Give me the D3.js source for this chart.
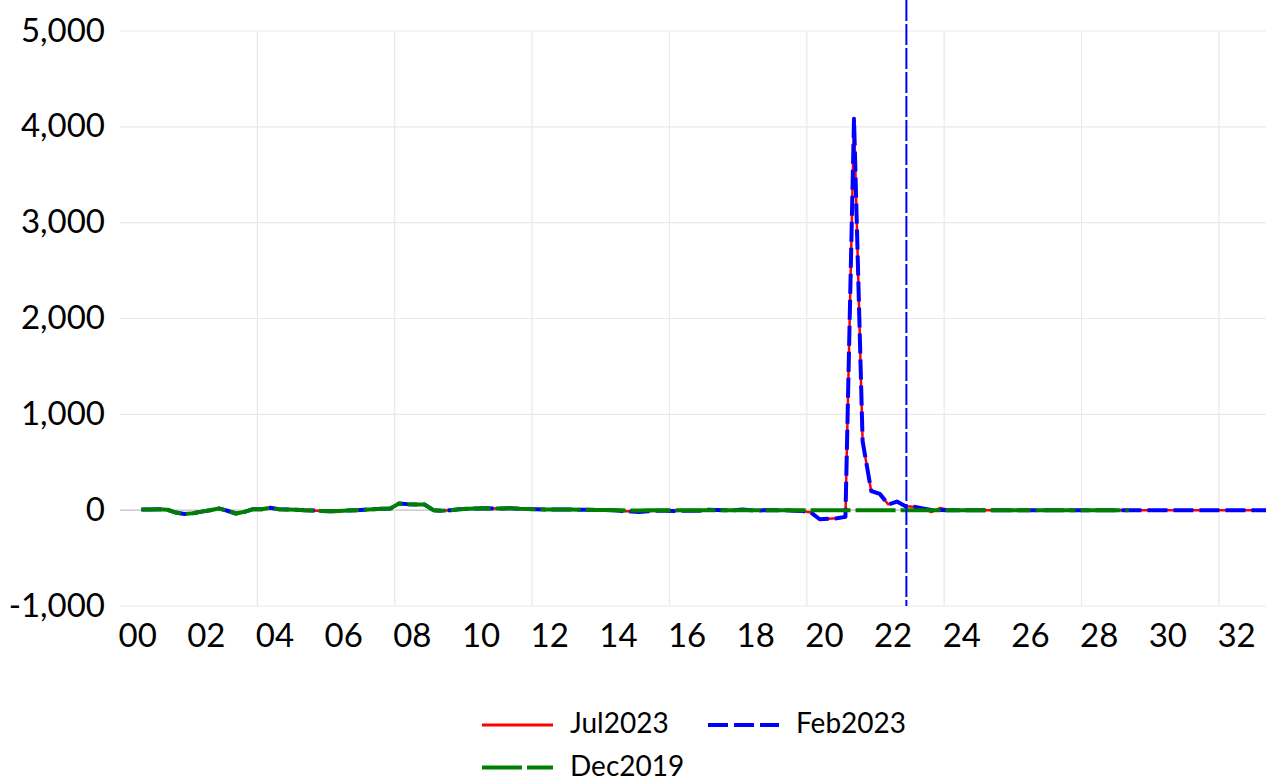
<!DOCTYPE html>
<html>
<head>
<meta charset="utf-8">
<script src="https://cdn.jsdelivr.net/npm/d3@7"></script>
<style>
  body { margin: 0; background: #fff; }
  svg text { font-family: Lato, "Noto Sans", sans-serif; fill: #000; }
</style>
</head>
<body>
<svg id="chart" width="1266" height="781"></svg>
<script>
"use strict";

// samples are quarter-hour slots, the first one sits in slot 2
const SLOTS_PER_HOUR = 4;
const FIRST_SLOT = 2;

const xTickHours = [0, 2, 4, 6, 8, 10, 12, 14, 16, 18, 20, 22, 24, 26, 28, 30, 32];
const xGridHours = [4, 8, 12, 16, 20, 24, 28, 32];
const yTicks = [-1000, 0, 1000, 2000, 3000, 4000, 5000];
const markerHour = 22.9;

const feb2023 = [
  7, 8, 10, 5, -25, -40, -32, -15, 0, 18,
  -6, -35, -18, 10, 10, 25, 10, 8, 5, 0,
  -3, -8, -12, -8, -4, 0, 5, 10, 15, 18,
  70, 63, 60, 58, 0, -6, 0, 10, 14, 18,
  20, 18, 18, 20, 15, 12, 10, 8, 8, 7,
  8, 5, 5, 3, 3, 0, -8, -15, -18, -12,
  -6, -5, -8, -6, -5, -6, 5, 2, 0, -2,
  8, 0, -3, 2, 0, -2, -5, -8, -25, -95,
  -90, -85, -70, 4085, 720, 200, 170, 60, 90, 40,
  35, 18, 2, 2, 0, 0, 0, 0, 0, 0,
  0, 0, 0, 0, 0, 0, 0, 0, 0, 0,
  0, 0, 0, 0, 0, 0, 0, 0, 0, 0,
  0, 0, 0, 0, 0, 0, 0, 0, 0, 0,
  0, 0
];

const jul2023 = [
  7, 8, 10, 5, -25, -40, -32, -15, 0, 18,
  -6, -35, -18, 10, 10, 25, 10, 8, 5, 0,
  -3, -8, -12, -8, -4, 0, 5, 10, 15, 18,
  70, 63, 60, 58, 0, -6, 0, 10, 14, 18,
  20, 18, 18, 20, 15, 12, 10, 8, 8, 7,
  8, 5, 5, 3, 3, 0, -8, -15, -18, -12,
  -6, -5, -8, -6, -5, -6, 5, 2, 0, -2,
  8, 0, -3, 2, 0, -2, -5, -8, -25, -95,
  -90, -85, -70, 4085, 720, 200, 170, 60, 90, 40,
  35, 18, -20, 22, 5, 0, 0, 0, 0, 0,
  0, 0, 0, 0, 0, 0, 0, 0, 0, 0,
  0, 0, 0, 0, 0, 0, 0, 0, 0, 0,
  0, 0, 0, 0, 0, 0, 0, 0, 0, 0,
  0, 0
];

const dec2019 = [
  7, 8, 10, 5, -25, -40, -32, -15, 0, 18,
  -6, -35, -18, 10, 10, 25, 10, 8, 5, 0,
  -3, -8, -12, -8, -4, 0, 5, 10, 15, 18,
  70, 63, 60, 58, 0, -6, 0, 10, 14, 18,
  20, 18, 18, 20, 15, 12, 10, 8, 8, 7,
  8, 5, 5, 3, 3, 0, -2, -3, -3, -2,
  -2, -2, -2, -2, -2, -2, 0, 0, 0, 0,
  0, 0, 0, 0, 0, 0, 0, -2, -2, -2,
  -2, -2, 0, 0, 0, 0, 0, 0, 0, 0,
  0, 0, 0, 0, 0, 0, 0, 0, 0, 0,
  0, 0, 0, 0, 0, 0, 0, 0, 0, 0,
  0, 0, 0, 0, 0, 0
];

const series = [
  { name: "Jul2023", values: jul2023, color: "#ff0000", width: 2.5, dash: null },
  { name: "Feb2023", values: feb2023, color: "#0000ff", width: 4, dash: "20,6" },
  { name: "Dec2019", values: dec2019, color: "#008000", width: 4, dash: "40,5" },
];

function draw() {
  const svg = d3.select("#chart");
  const left = 120;
  const top = 31;
  const bottom = 606;
  const hourPx = 34.34;

  const x = d3
    .scaleLinear()
    .domain([0, 33.5])
    .range([left, left + 33.5 * hourPx]);

  const y = d3.scaleLinear().domain([-1000, 5000]).range([bottom, top]);

  // grid
  svg
    .append("g")
    .selectAll("line")
    .data(yTicks)
    .enter()
    .append("line")
    .attr("x1", left)
    .attr("x2", 1266)
    .attr("y1", (d) => y(d))
    .attr("y2", (d) => y(d))
    .attr("stroke", (d) => (d === 0 ? "#bfbfbf" : "#e9e9e9"))
    .attr("stroke-width", 1.2);

  svg
    .append("g")
    .selectAll("line")
    .data(xGridHours)
    .enter()
    .append("line")
    .attr("x1", (d) => x(d))
    .attr("x2", (d) => x(d))
    .attr("y1", top)
    .attr("y2", bottom)
    .attr("stroke", "#e9e9e9")
    .attr("stroke-width", 1.2);

  // tick labels
  svg
    .append("g")
    .selectAll("text")
    .data(yTicks)
    .enter()
    .append("text")
    .attr("x", 105)
    .attr("y", (d) => y(d) + 10.5)
    .attr("text-anchor", "end")
    .style("font-size", "33px")
    .text((d) => d3.format(",")(d).replace("−", "-"));

  svg
    .append("g")
    .selectAll("text")
    .data(xTickHours)
    .enter()
    .append("text")
    .attr("x", (d) => x(d) - 1.5)
    .attr("y", 647)
    .style("font-size", "33px")
    .text((d) => String(d).padStart(2, "0"));

  // series
  const line = d3
    .line()
    .x((d, i) => x((FIRST_SLOT + i + 0.5) / SLOTS_PER_HOUR))
    .y((d) => y(d));

  svg
    .append("g")
    .selectAll("path")
    .data(series)
    .enter()
    .append("path")
    .attr("d", (s) => line(s.values))
    .attr("fill", "none")
    .attr("stroke", (s) => s.color)
    .attr("stroke-width", (s) => s.width)
    .attr("stroke-dasharray", (s) => s.dash)
    .attr("stroke-linejoin", "round");

  // marker line
  svg
    .append("line")
    .attr("x1", x(markerHour))
    .attr("x2", x(markerHour))
    .attr("y1", 0)
    .attr("y2", bottom)
    .attr("stroke", "#0000ff")
    .attr("stroke-width", 2)
    .attr("stroke-dasharray", "21,3");

  // legend
  const legendPos = [
    [482, 725],
    [708, 725],
    [482, 767.5],
  ];
  const legend = svg
    .append("g")
    .selectAll("g")
    .data(series)
    .enter()
    .append("g")
    .attr("transform", (s, i) => `translate(${legendPos[i][0]},${legendPos[i][1]})`);

  legend
    .append("line")
    .attr("x1", 0)
    .attr("x2", 71)
    .attr("stroke", (s) => s.color)
    .attr("stroke-width", (s) => (s.dash ? 4 : 3))
    .attr("stroke-dasharray", (s) => s.dash);

  legend
    .append("text")
    .attr("x", 88)
    .attr("y", 8)
    .style("font-size", "28px")
    .text((s) => s.name);
}

draw();
</script>
</body>
</html>
